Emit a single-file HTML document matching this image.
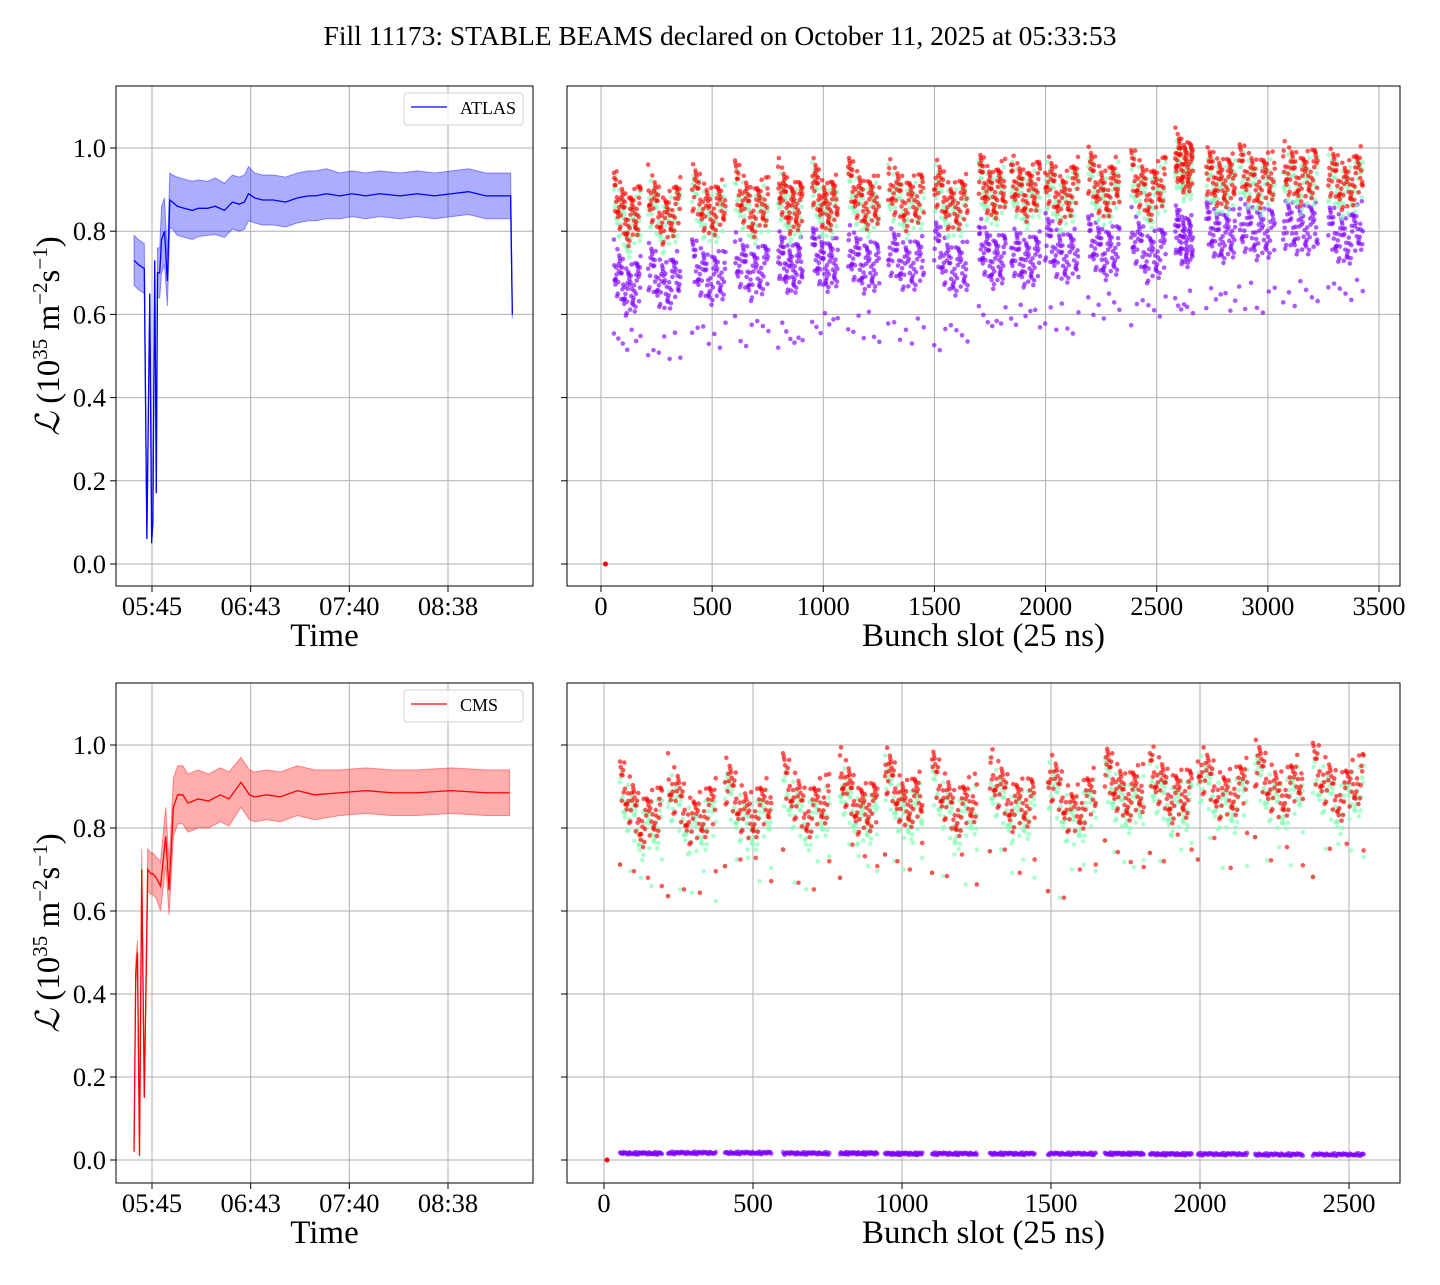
<!DOCTYPE html>
<html><head><meta charset="utf-8"><style>
body{margin:0;background:#fff;}
svg text{font-family:"Liberation Serif",serif;fill:#000;}
</style></head><body>
<svg id="fig" width="1440" height="1280" xmlns="http://www.w3.org/2000/svg">
<text x="720" y="45" text-anchor="middle" font-size="27.5">Fill 11173: STABLE BEAMS declared on October 11, 2025 at 05:33:53</text>
</svg>
<script>
// ---- data ----
const timeTicks = [345.0, 402.67, 460.33, 518.0];
const timeTickLabels = ["05:45","06:43","07:40","08:38"];
const yTicks = [0.0,0.2,0.4,0.6,0.8,1.0];
const yTickLabels = ["0.0","0.2","0.4","0.6","0.8","1.0"];
const slotTicksTop = [0,500,1000,1500,2000,2500,3000,3500];
const slotTicksBot = [0,500,1000,1500,2000,2500];

// ATLAS time series (minutes since midnight, value, band half-width)
const atlasT = [334.5,337,340.5,342,343.7,344.8,345.5,346.6,347.5,348.2,349.5,350.6,352.3,354,355.4,357,359.8,364,368.6,372,377.4,382,387.3,392,396,399,401.4,405,409.6,416,423,430,436.5,440.6,447,454.7,462,470,478,490,500,510,520,530,540,550,554.6,555.6];
const atlasV = [0.73,0.72,0.71,0.06,0.65,0.05,0.10,0.73,0.17,0.70,0.70,0.78,0.80,0.68,0.875,0.87,0.86,0.855,0.85,0.855,0.855,0.86,0.85,0.87,0.865,0.87,0.89,0.88,0.875,0.875,0.87,0.88,0.885,0.885,0.89,0.885,0.89,0.885,0.89,0.885,0.89,0.885,0.89,0.895,0.885,0.885,0.885,0.60];
const atlasE = [0.06,0.06,0.06,0.0,0.0,0.0,0.0,0.0,0.0,0.06,0.06,0.08,0.08,0.06,0.065,0.065,0.07,0.07,0.07,0.068,0.065,0.068,0.065,0.065,0.065,0.065,0.065,0.06,0.06,0.06,0.06,0.06,0.06,0.06,0.06,0.055,0.055,0.055,0.055,0.055,0.055,0.055,0.055,0.055,0.055,0.055,0.055,0.01];
// CMS time series
const cmsT = [334.5,335.5,336.5,337.7,339,340.5,342.5,344.3,345.5,347.5,350,353,355,357.5,360,363,366,372,378,385,390,397,402,405,412,420,430,440,455,470,485,500,520,540,554];
const cmsV = [0.02,0.45,0.50,0.01,0.70,0.15,0.70,0.69,0.69,0.68,0.66,0.78,0.65,0.85,0.88,0.88,0.86,0.87,0.865,0.88,0.87,0.91,0.88,0.875,0.88,0.875,0.89,0.88,0.885,0.89,0.885,0.885,0.89,0.885,0.885];
const cmsE = [0,0.03,0.03,0,0.05,0,0.05,0.05,0.05,0.05,0.06,0.07,0.06,0.07,0.07,0.07,0.07,0.07,0.065,0.065,0.065,0.06,0.06,0.06,0.06,0.06,0.06,0.06,0.055,0.055,0.055,0.055,0.055,0.055,0.055];

// Top bunch-by-bunch: train start slot, length, and [start, mid, end] levels
const topStarts = [58,212,410,603,797,950,1112,1292,1499,1700,1845,1998,2192,2385,2583,2723,2871,3069,3272];
const topLens =   [120,145,150,150,110,115,140,160,150,120,130,150,140,155,80,130,160,155,155];
const topRed = [[0.90,0.82,0.86],[0.90,0.82,0.87],[0.91,0.84,0.87],[0.92,0.84,0.88],[0.92,0.85,0.87],[0.93,0.85,0.88],[0.93,0.86,0.88],[0.92,0.86,0.89],[0.93,0.85,0.88],[0.94,0.88,0.92],[0.93,0.88,0.92],[0.94,0.87,0.92],[0.95,0.88,0.93],[0.95,0.88,0.93],[0.99,0.95,0.96],[0.95,0.91,0.93],[0.96,0.91,0.94],[0.96,0.92,0.95],[0.95,0.90,0.95]];
const topGreen = [[0.88,0.79,0.84],[0.88,0.80,0.85],[0.89,0.82,0.85],[0.90,0.82,0.86],[0.90,0.83,0.85],[0.91,0.83,0.86],[0.91,0.84,0.86],[0.90,0.84,0.87],[0.91,0.83,0.86],[0.92,0.86,0.90],[0.91,0.86,0.90],[0.92,0.85,0.90],[0.93,0.86,0.91],[0.93,0.86,0.91],[0.97,0.93,0.94],[0.93,0.89,0.91],[0.94,0.89,0.92],[0.94,0.90,0.93],[0.93,0.88,0.93]];
const topPurple = [[0.72,0.65,0.68],[0.72,0.66,0.70],[0.73,0.68,0.70],[0.74,0.69,0.72],[0.75,0.70,0.73],[0.76,0.71,0.73],[0.76,0.71,0.72],[0.76,0.71,0.73],[0.78,0.70,0.72],[0.78,0.72,0.74],[0.76,0.72,0.74],[0.79,0.73,0.75],[0.79,0.74,0.76],[0.80,0.73,0.76],[0.81,0.77,0.78],[0.82,0.78,0.80],[0.82,0.79,0.80],[0.82,0.80,0.81],[0.81,0.77,0.82]];
const topPurpleLow = [0.53,0.52,0.55,0.56,0.55,0.57,0.57,0.56,0.55,0.59,0.59,0.59,0.62,0.61,0.63,0.63,0.64,0.65,0.65];

// Bottom bunch-by-bunch
const botStarts = [54,215,406,601,792,943,1101,1295,1490,1681,1832,1993,2185,2379];
const botLens =   [140,160,155,155,125,125,150,150,160,130,140,165,160,170];
const botRed = [[0.92,0.81,0.85],[0.92,0.81,0.86],[0.92,0.82,0.87],[0.93,0.83,0.88],[0.94,0.84,0.86],[0.95,0.85,0.88],[0.94,0.83,0.88],[0.94,0.85,0.87],[0.94,0.83,0.89],[0.95,0.87,0.90],[0.95,0.87,0.89],[0.96,0.87,0.91],[0.96,0.87,0.93],[0.96,0.87,0.93]];
const botGreen = [[0.89,0.78,0.82],[0.89,0.78,0.83],[0.89,0.79,0.84],[0.90,0.80,0.85],[0.91,0.81,0.83],[0.92,0.82,0.85],[0.91,0.80,0.85],[0.91,0.82,0.84],[0.91,0.80,0.86],[0.92,0.84,0.87],[0.92,0.84,0.86],[0.93,0.84,0.88],[0.93,0.84,0.90],[0.93,0.84,0.90]];
const botPurple = [0.016,0.017,0.017,0.016,0.016,0.015,0.015,0.015,0.015,0.015,0.014,0.014,0.013,0.013];
const botLow = [0.68,0.66,0.70,0.70,0.72,0.72,0.70,0.72,0.68,0.73,0.74,0.74,0.75,0.73];
// observed scatter spread around the level
const spread = [0.04,-0.03,0.01,0.06,-0.05,0.02,-0.01,0.03,-0.04,0.05,0.0,-0.02,0.035,-0.06,0.015,-0.025,0.045,-0.035,0.025,-0.015,0.055,-0.045,0.005];

// ---- drawing ----
const svg = document.getElementById('fig');
const NS = 'http://www.w3.org/2000/svg';
function mk(tag, attrs, parent){const e=document.createElementNS(NS,tag);for(const k in attrs)e.setAttribute(k,attrs[k]);(parent||svg).appendChild(e);return e;}
function lin(d0,d1,r0,r1){return v=>r0+(v-d0)*(r1-r0)/(d1-d0);}

function axes(ax, name, xTicks, xLabels, xScale, xTitle, showYLabels){
  const g = mk('g',{});
  
  
  const grid = mk('g',{},g);
  
  
  xTicks.forEach((t,i)=>{
    const x = xScale(t);
    mk('line',{x1:x,x2:x,y1:ax.y0,y2:ax.y1,stroke:'#b0b0b0','stroke-width':1},grid);
    mk('line',{x1:x,x2:x,y1:ax.y1,y2:ax.y1+6,stroke:'#000','stroke-width':1},g);
    const tl = mk('text',{x:x,y:ax.y1+29,'text-anchor':'middle','font-size':26.5},g);
    tl.textContent = xLabels[i];
    
    
  });
  yTicks.forEach((t,i)=>{
    const y = ax.ys(t);
    mk('line',{x1:ax.x0,x2:ax.x1,y1:y,y2:y,stroke:'#b0b0b0','stroke-width':1},grid);
    mk('line',{x1:ax.x0-6,x2:ax.x0,y1:y,y2:y,stroke:'#000','stroke-width':1},g);
    if(showYLabels){
      const tl = mk('text',{x:ax.x0-10,y:y+9,'text-anchor':'end','font-size':26.5},g);
      tl.textContent = yTickLabels[i];
      
      
    }
  });
  const xt = mk('text',{x:(ax.x0+ax.x1)/2,y:ax.y1+60,'text-anchor':'middle','font-size':33},g);
  xt.textContent = xTitle;
  
  
  return g;
}
function frame(ax){
  const r = mk('rect',{x:ax.x0,y:ax.y0,width:ax.x1-ax.x0,height:ax.y1-ax.y0,fill:'none',stroke:'#000','stroke-width':1});
  
  
}
function ylabel(ax){
  const cy=(ax.y0+ax.y1)/2;
  const t = mk('text',{x:0,y:0,'text-anchor':'middle','font-size':33,transform:`translate(59,${cy}) rotate(-90)`});
  t.innerHTML = '<tspan font-family="DejaVu Serif" font-style="italic">ℒ</tspan> (10<tspan dy="-12" font-size="21">35</tspan><tspan dy="12"> m</tspan><tspan dy="-12" font-size="21">−2</tspan><tspan dy="12">s</tspan><tspan dy="-12" font-size="21">−1</tspan><tspan dy="12">)</tspan>';
  
  
}
function timeSeries(ax, T, V, E, color, fill, name){
  const xs=ax.xs, ys=ax.ys;
  let up='', dn='';
  T.forEach((t,i)=>{up+=(i?'L':'M')+xs(t)+','+ys(V[i]+E[i]);});
  for(let i=T.length-1;i>=0;i--) dn+='L'+xs(T[i])+','+ys(V[i]-E[i]);
  const band = mk('path',{d:up+dn+'Z',fill:fill,'fill-opacity':0.32,stroke:fill,'stroke-opacity':0.4,'stroke-width':1});
  
  
  let d='';
  T.forEach((t,i)=>{d+=(i?'L':'M')+xs(t)+','+ys(V[i]);});
  const ln = mk('path',{d:d,fill:'none',stroke:color,'stroke-width':1.3});
  
  
}
function legend(x,y,label,color,name){
  const g = mk('g',{});
  
  
  mk('rect',{x:x,y:y,width:119,height:32,rx:3,fill:'#fff','fill-opacity':0.8,stroke:'#d0d0d0'},g);
  mk('line',{x1:x+7,x2:x+43,y1:y+14,y2:y+14,stroke:color,'stroke-width':1.3},g);
  const t = mk('text',{x:x+56,y:y+21,'font-size':18},g);
  t.textContent = label;
}
function prof(p,f){return f<0.5 ? p[0]+(p[1]-p[0])*f*2 : p[1]+(p[2]-p[1])*(f-0.5)*2;}
function scatter(ax, starts, lens, prof3, color, k0, n, name){
  const g = mk('g',{});
  
  
  starts.forEach((s,ti)=>{
    for(let i=0;i<n;i++){
      const f=i/(n-1);
      const v=prof(prof3[ti],f)+spread[(i*7+ti*3+k0)%spread.length];
      mk('circle',{cx:ax.xs(s+lens[ti]*f),cy:ax.ys(v),r:2.3,fill:color,'fill-opacity':0.65},g);
    }
  });
  return g;
}
function flatScatter(ax, starts, lens, vals, color, n, name, jit){
  const g = mk('g',{});
  
  
  starts.forEach((s,ti)=>{
    for(let i=0;i<n;i++){
      const f=i/(n-1);
      const v=vals[ti]+jit*spread[(i*5+ti)%spread.length];
      mk('circle',{cx:ax.xs(s+lens[ti]*f),cy:ax.ys(v),r:2.3,fill:color,'fill-opacity':0.65},g);
    }
  });
}

// axes geometry
const TL={x0:116,x1:533,y0:86,y1:586}; TL.xs=lin(345,518,152,448); TL.ys=lin(0,1,564,148);
const TR={x0:567,x1:1400,y0:86,y1:586}; TR.xs=lin(0,3500,601,1379); TR.ys=TL.ys;
const BL={x0:116,x1:533,y0:683,y1:1183}; BL.xs=TL.xs; BL.ys=lin(0,1,1160,745);
const BR={x0:567,x1:1400,y0:683,y1:1183}; BR.xs=lin(0,2500,604,1349); BR.ys=BL.ys;

axes(TL,'atlas-time-axes',timeTicks,timeTickLabels,TL.xs,'Time',true);
axes(TR,'atlas-bunch-axes',slotTicksTop,slotTicksTop.map(String),TR.xs,'Bunch slot (25 ns)',false);
axes(BL,'cms-time-axes',timeTicks,timeTickLabels,BL.xs,'Time',true);
axes(BR,'cms-bunch-axes',slotTicksBot,slotTicksBot.map(String),BR.xs,'Bunch slot (25 ns)',false);
ylabel(TL); ylabel(BL);

timeSeries(TL, atlasT, atlasV, atlasE, '#0000ff', '#0000ff', 'atlas');
timeSeries(BL, cmsT, cmsV, cmsE, '#ff0000', '#ff0000', 'cms');

// top scatter
flatScatter(TR, topStarts, topLens, topPurpleLow, '#8000ff', 7, 'atlas-purple-outliers', 0.6);
scatter(TR, topStarts, topLens, topPurple, '#8000ff', 3, 70, 'atlas-purple-points');
scatter(TR, topStarts, topLens, topGreen, '#80ffb4', 5, 60, 'atlas-green-points');
scatter(TR, topStarts, topLens, topRed, '#ff0000', 0, 70, 'atlas-red-points');
// bottom scatter
flatScatter(BR, botStarts, botLens, botLow, '#80ffb4', 5, 'cms-green-outliers', 0.8);
flatScatter(BR, botStarts, botLens, botLow, '#ff0000', 4, 'cms-red-outliers', 0.8);
scatter(BR, botStarts, botLens, botGreen, '#80ffb4', 5, 65, 'cms-green-points');
scatter(BR, botStarts, botLens, botRed, '#ff0000', 0, 70, 'cms-red-points');
flatScatter(BR, botStarts, botLens, botPurple, '#8000ff', 50, 'cms-purple-points', 0.05);

const z1 = mk('circle',{cx:TR.xs(20),cy:TR.ys(0),r:2.5,fill:'#ff0000'});


const z2 = mk('circle',{cx:BR.xs(10),cy:BR.ys(0),r:2.5,fill:'#ff0000'});



legend(404,93,'ATLAS','#0000ff','atlas-legend');
legend(404,690,'CMS','#ff0000','cms-legend');
[TL,TR,BL,BR].forEach(frame);
</script>
</body></html>
